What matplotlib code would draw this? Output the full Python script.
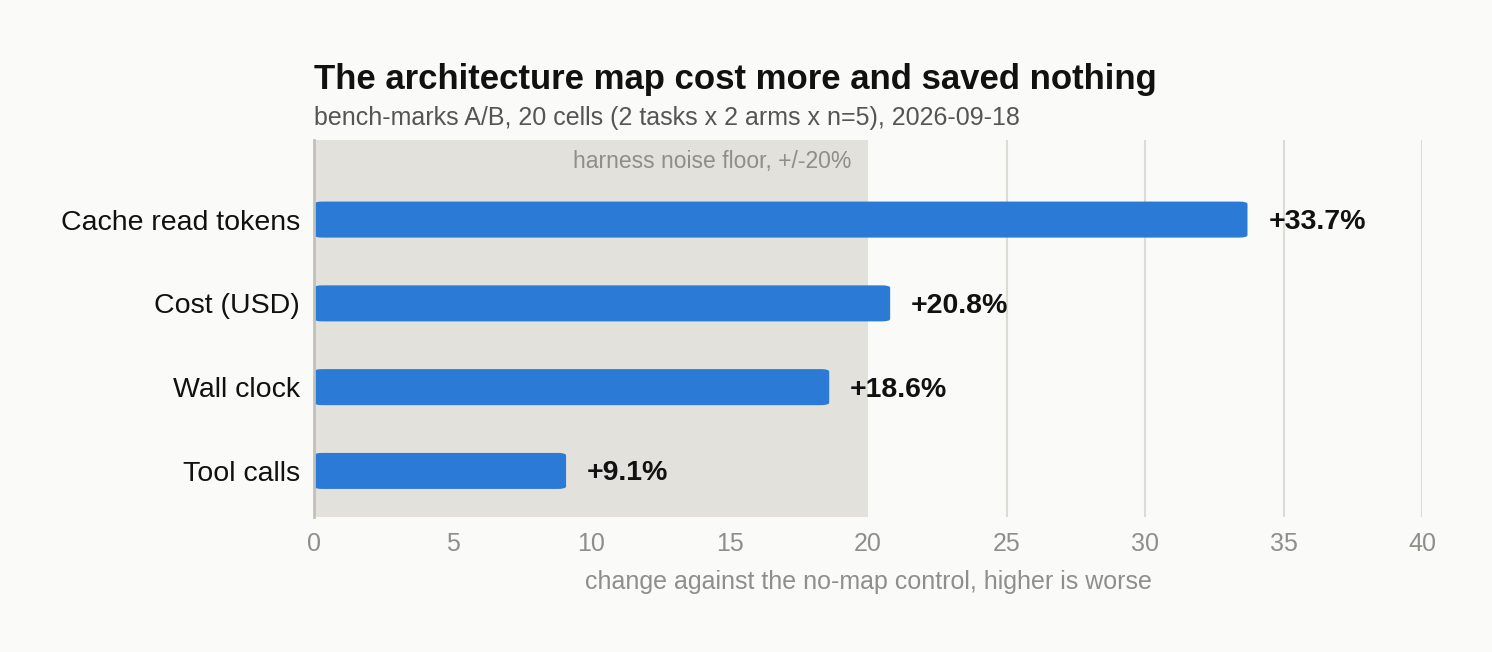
import matplotlib
matplotlib.use("Agg")
import matplotlib.pyplot as plt
from matplotlib.patches import FancyBboxPatch

categories = ["Cache read tokens", "Cost (USD)", "Wall clock", "Tool calls"]
values = [33.7, 20.8, 18.6, 9.1]
labels = ["+33.7%", "+20.8%", "+18.6%", "+9.1%"]
ticks = [0, 5, 10, 15, 20, 25, 30, 35, 40]

plt.rcParams['font.family'] = ['Liberation Sans', 'DejaVu Sans']
bg = "#fafaf8"
fig = plt.figure(figsize=(14.92, 6.52), dpi=100, facecolor=bg)
ax = fig.add_axes([314/1492, 1-517/652, 1108/1492, 377/652], facecolor=bg)

ax.axvspan(0, 20, color="#e2e1db", zorder=0, lw=0)
for t in ticks[5:]:
    ax.axvline(t, color="#dddcd4", lw=1.5, zorder=0.5)
ax.text(19.4, 3.69, "harness noise floor, +/-20%", ha="right", va="center",
        fontsize=16.5, color="#8f8f8a")

ys = list(range(len(categories)))[::-1]
h = 0.43
for y, v, lab in zip(ys, values, labels):
    p = FancyBboxPatch((0, y - h/2), v, h, boxstyle="round,pad=0,rounding_size=0.3",
                       mutation_aspect=0.1, fc="#2a7ad6", ec="none", zorder=2)
    ax.add_patch(p)
    ax.text(v + 0.75, y - 0.03, lab, va="center", ha="left", fontsize=20.5, fontweight="bold", color="#111")

ax.set_xlim(0, 40)
ax.set_ylim(-0.55, 3.95)
ax.set_yticks(ys)
ax.set_yticklabels(categories, fontsize=20.5, color="#111")
ax.set_xticks(ticks)
ax.set_xticklabels([str(t) for t in ticks], fontsize=18, color="#8f8f8a")
ax.tick_params(length=0, pad=10)
ax.tick_params(axis='x', pad=11)
for s in ["top", "right", "bottom"]:
    ax.spines[s].set_visible(False)
ax.spines["left"].set_color("#c2c1b8")
ax.spines["left"].set_linewidth(2)
ax.set_xlabel("change against the no-map control, higher is worse", fontsize=18,
              color="#8f8f8a", labelpad=10)

fig.text(314/1492, 1-79/652, "The architecture map cost more and saved nothing",
         fontsize=25, fontweight="bold", color="#111", va="center")
fig.text(314/1492, 1-118/652, "bench-marks A/B, 20 cells (2 tasks x 2 arms x n=5), 2026-09-18",
         fontsize=18, color="#555", va="center")
fig.savefig("out.png", dpi=100, facecolor=bg)
